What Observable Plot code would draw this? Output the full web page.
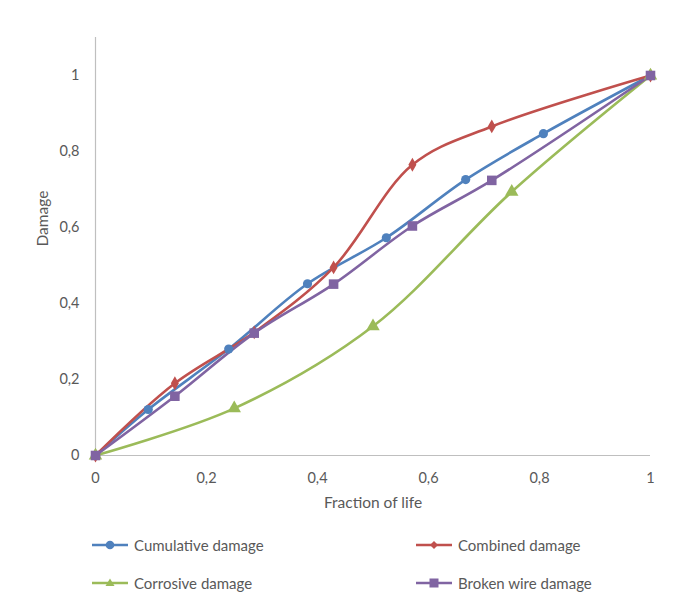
<!DOCTYPE html>
<html>
<head>
<meta charset="utf-8">
<script src="https://cdn.jsdelivr.net/npm/d3@7"></script>
<script src="https://cdn.jsdelivr.net/npm/@observablehq/plot@0.6"></script>
<style>
  body { margin: 0; background: #fff; font-family: Lato, "Open Sans", sans-serif; }
  #chart { position: relative; width: 678px; height: 610px; }
  .legend { position: absolute; left: 0; top: 520px; width: 678px; height: 90px; }
  .item { position: absolute; display: flex; align-items: center; font-size: 15px; color: #595959; height: 20px; }
  .item svg { margin-right: 4px; }
</style>
</head>
<body>
<div id="chart"></div>
<script>
const seriesNames = ["Cumulative damage", "Combined damage", "Corrosive damage", "Broken wire damage"];
const seriesColors = ["#4F81BD", "#C0504D", "#9BBB59", "#8064A2"];
const seriesSymbols = ["circle", "diamond", "triangle", "square"];

const cumulativeX = [0, 0.095, 0.24, 0.382, 0.524, 0.667, 0.807, 1];
const cumulativeY = [0, 0.121, 0.28, 0.452, 0.573, 0.726, 0.847, 1];

const combinedX = [0, 0.143, 0.286, 0.429, 0.571, 0.714, 1];
const combinedY = [0, 0.19, 0.324, 0.495, 0.765, 0.866, 1];

const corrosiveX = [0, 0.25, 0.5, 0.75, 1];
const corrosiveY = [0, 0.124, 0.34, 0.694, 1];

const brokenX = [0, 0.143, 0.286, 0.429, 0.571, 0.714, 1];
const brokenY = [0, 0.156, 0.322, 0.451, 0.604, 0.724, 1];

const xTicks = [0, 0.2, 0.4, 0.6, 0.8, 1];
const yTicks = [0, 0.2, 0.4, 0.6, 0.8, 1];
const xLabel = "Fraction of life";
const yLabel = "Damage";

const allX = [cumulativeX, combinedX, corrosiveX, brokenX];
const allY = [cumulativeY, combinedY, corrosiveY, brokenY];

const series = seriesNames.map((name, i) => ({
  name, color: seriesColors[i], symbol: seriesSymbols[i],
  data: allX[i].map((x, j) => ({series: name, x, y: allY[i][j]}))
}));

const fmt = d => String(d).replace(".", ",");
const font = "Lato, 'Open Sans', sans-serif";

const marks = [
  Plot.ruleY([0], {stroke: "#BFBFBF", strokeWidth: 1}),
  Plot.ruleX([0], {stroke: "#BFBFBF", strokeWidth: 1.2}),
  Plot.axisX({ticks: xTicks, tickFormat: fmt, tickSize: 0, tickPadding: 17, fontSize: 14.5, fill: "#595959", label: null}),
  Plot.axisY({ticks: yTicks, tickFormat: fmt, tickSize: 0, tickPadding: 16, fontSize: 14.5, fill: "#595959", label: null}),
  Plot.text([xLabel], {frameAnchor: "bottom", dy: 52, text: d => d, fontSize: 15.5, fill: "#595959"}),
  Plot.text([yLabel], {frameAnchor: "left", dx: -52, rotate: -90, text: d => d, fontSize: 15.5, fill: "#595959"}),
];
for (const s of series) {
  marks.push(Plot.line(s.data, {x: "x", y: "y", stroke: s.color, strokeWidth: 2.6, curve: "catmull-rom"}));
}
for (const s of series) {
  const r = s.symbol === "square" ? 5.4 : s.symbol === "circle" ? 4.6 : s.symbol === "triangle" ? 5 : 4.2;
  marks.push(Plot.dot(s.data, {x: "x", y: "y", fill: s.color, stroke: "none", symbol: () => s.symbol, r}));
}

const plot = Plot.plot({
  width: 678,
  height: 520,
  marginLeft: 95,
  marginRight: 28,
  marginTop: 37,
  marginBottom: 65,
  style: {fontFamily: font, fontSize: "14px", color: "#595959", background: "#fff"},
  x: {domain: [0, 1]},
  y: {domain: [0, 1.1]},
  symbol: {type: "identity"},
  marks
});

const chart = document.getElementById("chart");
chart.appendChild(plot);

const legend = document.createElement("div");
legend.className = "legend";
const positions = [[92, 15], [416, 15], [92, 53], [416, 53]];
series.forEach((s, i) => {
  const item = document.createElement("div");
  item.className = "item";
  item.style.left = positions[i][0] + "px";
  item.style.top = positions[i][1] + "px";
  let marker = "";
  if (s.symbol === "circle") marker = `<circle cx="18" cy="10" r="4.3" fill="${s.color}"/>`;
  else if (s.symbol === "diamond") marker = `<path d="M18 6 L22 10 L18 14 L14 10Z" fill="${s.color}"/>`;
  else if (s.symbol === "triangle") marker = `<path d="M18 5.5 L22.5 13 L13.5 13Z" fill="${s.color}"/>`;
  else marker = `<rect x="13.5" y="5.5" width="9" height="9" fill="${s.color}"/>`;
  item.innerHTML = `<svg width="38" height="20"><line x1="0" y1="10" x2="36" y2="10" stroke="${s.color}" stroke-width="2.6"/>${marker}</svg><span>${s.name}</span>`;
  legend.appendChild(item);
});
chart.appendChild(legend);
</script>
</body>
</html>
